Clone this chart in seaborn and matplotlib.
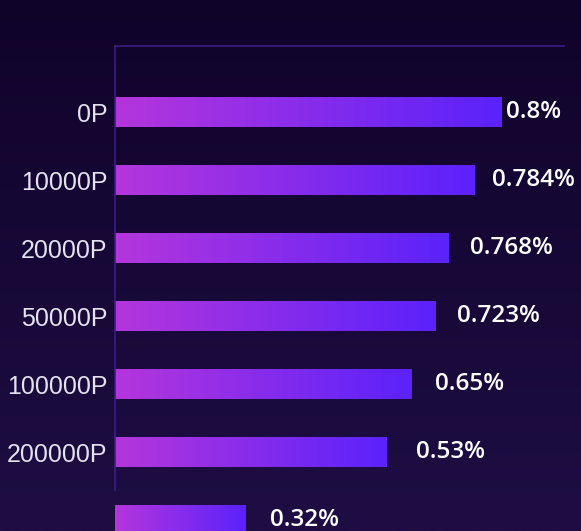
import matplotlib
matplotlib.use("Agg")
import matplotlib.pyplot as plt
from matplotlib.colors import LinearSegmentedColormap
import seaborn as sns
import numpy as np
import pandas as pd

# data
categories = ["0P", "10000P", "20000P", "50000P", "100000P", "200000P", ""]
bar_values = [0.86, 0.80, 0.742, 0.713, 0.66, 0.604, 0.291]
value_labels = ["0.8%", "0.784%", "0.768%", "0.723%", "0.65%", "0.53%", "0.32%"]

# label gap after each bar end, pixels
label_gap = [5, 18, 22, 22, 24, 30, 24]

df = pd.DataFrame({"cat": categories, "val": bar_values})

sns.set_theme(style="white")
plt.rcParams["font.family"] = ["Liberation Sans", "DejaVu Sans"]

fig = plt.figure(figsize=(5.81, 5.31), dpi=100)

# background gradient
bg = fig.add_axes([0, 0, 1, 1], zorder=-10)
bg_cmap = LinearSegmentedColormap.from_list("bg", ["#10032a", "#1e0e44"])
bg.imshow(np.linspace(0, 1, 256).reshape(-1, 1), aspect="auto", cmap=bg_cmap,
          extent=[0, 1, 0, 1], origin="upper")
bg.axis("off")

W, H = 581, 531
ax = fig.add_axes([115 / W, 0, (564 - 115) / W, 1 - 46 / H])
ax.patch.set_alpha(0)

sns.barplot(data=df, x="val", y="cat", orient="h", width=0.44, ax=ax,
            color="#8a2ee8", saturation=1)

y_top, y_bot = -0.971, 6.16

bar_cmap = LinearSegmentedColormap.from_list("bar", ["#b436dc", "#5b22fb"])
grad = np.linspace(0, 1, 256).reshape(1, -1)
for p, lab, gap in zip(ax.patches, value_labels, label_gap):
    x0, y0 = p.get_x(), p.get_y()
    w, h = p.get_width(), p.get_height()
    im = ax.imshow(grad, aspect="auto", cmap=bar_cmap,
                   extent=[x0, x0 + w, y0 + h, y0], zorder=2)
    im.set_clip_path(p)
    p.set_facecolor("none")
    p.set_edgecolor("none")
    ax.annotate(lab, (x0 + w, y0 + h / 2), xytext=(gap, 0),
                textcoords="offset pixels", ha="left", va="center",
                color="white", fontsize=17.5, family=["Open Sans", "DejaVu Sans"],
                fontweight="semibold", zorder=3)

ax.set_xlim(0, 1)
ax.set_ylim(y_bot, y_top)

ax.set_xlabel("")
ax.set_ylabel("")
ax.set_xticks([])
ax.tick_params(axis="y", length=0, pad=5.5, labelsize=18, labelcolor="#e4e2ee")

for s in ["right", "bottom"]:
    ax.spines[s].set_visible(False)
for s in ["top", "left"]:
    ax.spines[s].set_color("#3a1d85")
    ax.spines[s].set_linewidth(1.2)
ax.spines["left"].set_bounds(5.56, y_top)

fig.savefig("out.png", dpi=100)
